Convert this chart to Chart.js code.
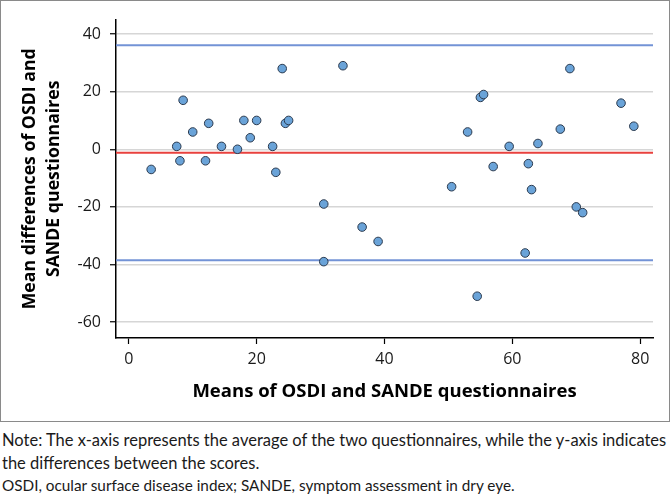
<!DOCTYPE html>
<html>
<head>
<meta charset="utf-8">
<script src="https://cdn.jsdelivr.net/npm/chart.js@4/dist/chart.umd.min.js"></script>
<style>
  body { margin: 0; background: #fff; font-family: 'Open Sans', sans-serif; }
  .box { position: absolute; left: 0; top: 0; width: 668px; height: 420px; border: 1px solid #8a8a8a; }
  .note { position: absolute; left: 2px; top: 429px; font-family: Lato, sans-serif; font-size: 16.5px; line-height: 22.5px; color: #1a1a1a; white-space: nowrap; }
  .note p { margin: 0; }
  .note p.abrev { font-size: 15.3px; }
</style>
</head>
<body>
<div class="box"><canvas id="grafico"></canvas></div>
<div class="note">
  <p>Note: The x-axis represents the average of the two questionnaires, while the y-axis indicates<br>the differences between the scores.</p>
  <p class="abrev">OSDI, ocular surface disease index; SANDE, symptom assessment in dry eye.</p>
</div>
<script>
// medias de ambos cuestionarios (eje x) y diferencias (eje y)
const medias = [3.5, 7.5, 8, 8.5, 10, 12, 12.5, 14.5, 17, 18, 19, 20, 22.5, 23, 24, 24.5, 25,
  30.5, 30.5, 33.5, 36.5, 39, 50.5, 53, 54.5, 55, 55.5, 57, 59.5, 62, 62.5, 63, 64, 67.5, 69, 70, 71, 77, 79];
const diferencias = [-7, 1, -4, 17, 6, -4, 9, 1, 0, 10, 4, 10, 1, -8, 28, 9, 10,
  -19, -39, 29, -27, -32, -13, 6, -51, 18, 19, -6, 1, -36, -5, -14, 2, 7, 28, -20, -22, 16, 8];
const diferenciaMedia = -1.2;
const limiteSuperior = 36.1;
const limiteInferior = -38.5;
const ejeX = [-2, 82];
const ejeY = [-65.5, 45];

const puntos = medias.map((m, i) => ({ x: m, y: diferencias[i] }));
const lineaH = (v) => ejeX.map(x => ({ x: x, y: v }));

const ctx = document.getElementById('grafico');

const myChart = new Chart(ctx, {
  type: 'scatter',
  data: {
    datasets: [{
      label: 'Diferencias',
      data: puntos,
      backgroundColor: '#6aa3d8',
      borderColor: '#2b3a4e',
      borderWidth: 1,
      pointRadius: 4.3,
      order: 0,
    }, {
      type: 'line',
      label: 'Media',
      data: lineaH(diferenciaMedia),
      borderColor: '#e8413e',
      borderWidth: 2,
      pointRadius: 0,
      order: 1,
    }, {
      type: 'line',
      label: 'LSA',
      data: lineaH(limiteSuperior),
      borderColor: '#7393d6',
      borderWidth: 2,
      pointRadius: 0,
      order: 1,
    }, {
      type: 'line',
      label: 'LIA',
      data: lineaH(limiteInferior),
      borderColor: '#7393d6',
      borderWidth: 2,
      pointRadius: 0,
      order: 1,
    }]
  },
  options: {
    responsive: true,
    maintainAspectRatio: false,
    animation: false,
    events: [],
    layout: {
      padding: { left: 0, right: 16, top: 16, bottom: 0 }
    },
    plugins: {
      legend: { display: false },
      tooltip: { enabled: false },
    },
    scales: {
      x: {
        type: 'linear',
        min: ejeX[0],
        max: ejeX[1],
        afterFit: (s) => { s.height = 83; },
        afterBuildTicks: (s) => { s.ticks = [0, 20, 40, 60, 80].map(v => ({ value: v })); },
        border: { color: '#000', width: 1.5 },
        grid: { drawOnChartArea: false, tickLength: 6, tickColor: '#000', tickWidth: 1.2 },
        ticks: { color: '#1a1a1a', font: { family: 'Open Sans', size: 16 }, padding: 6 },
        title: {
          display: true,
          text: 'Means of OSDI and SANDE questionnaires',
          color: '#000',
          font: { family: 'Open Sans', size: 18.5, weight: 'bold', lineHeight: 1.41 },
          padding: { top: 0, bottom: 16 },
        },
      },
      y: {
        type: 'linear',
        min: ejeY[0],
        max: ejeY[1],
        afterFit: (s) => { s.width = 115; },
        afterBuildTicks: (s) => { s.ticks = [-60, -40, -20, 0, 20, 40].map(v => ({ value: v })); },
        border: { color: '#000', width: 1.5 },
        grid: { color: '#d6d6d6', lineWidth: 1.5, tickLength: 6, tickColor: '#000', tickWidth: 1.2 },
        ticks: { color: '#1a1a1a', font: { family: 'Open Sans', size: 16 }, padding: 9 },
        title: {
          display: true,
          text: ['Mean differences of OSDI and', 'SANDE questionnaires'],
          color: '#000',
          font: { family: 'Open Sans', size: 17.7, weight: 'bold', lineHeight: 1.36 },
          padding: { top: 17, bottom: 0 },
        },
      }
    }
  },
});
</script>
</body>
</html>
